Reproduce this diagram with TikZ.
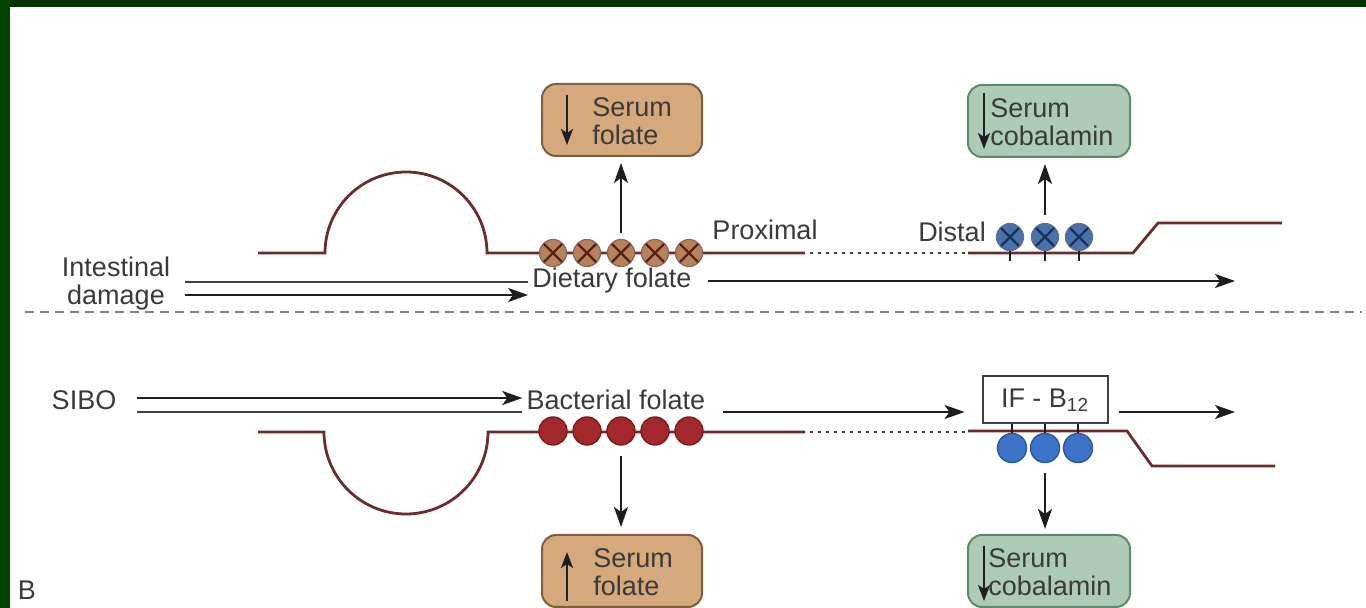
\documentclass[tikz,border=0pt]{standalone}
\usepackage{fontspec}
\setmainfont{Liberation Sans}
\usepackage{xcolor}
\usetikzlibrary{arrows.meta}
\definecolor{frametop}{HTML}{003300}
\definecolor{frameside}{HTML}{004400}
\definecolor{gutwall}{HTML}{6A2C2C}
\definecolor{labelink}{HTML}{3A3A3A}
\definecolor{arrowink}{HTML}{1E1E1E}
\definecolor{folatefill}{HTML}{D6A97C}
\definecolor{folateedge}{HTML}{7E5E3E}
\definecolor{cobalfill}{HTML}{AECBB8}
\definecolor{cobaledge}{HTML}{5B8A6C}
\definecolor{recbrown}{HTML}{B5825A}
\definecolor{recbrownx}{HTML}{5C1F14}
\definecolor{bacred}{HTML}{A3282B}
\definecolor{bacredge}{HTML}{7A1B1E}
\definecolor{ileumblue}{HTML}{4A72AA}
\definecolor{ileumbluex}{HTML}{18305E}
\definecolor{ifblue}{HTML}{3C73C6}
\definecolor{ifbluedge}{HTML}{2B56A0}

\begin{document}
\begin{tikzpicture}[
  x=0.5pt,
  y=-0.5pt,
  every node/.style={font=\fontsize{13.5}{14}\selectfont, labelink},
  flow/.style={arrowink, line width=1.2pt,
               -{Stealth[length=10pt,width=7pt,inset=2.5pt]}},
  pipe/.style={arrowink!85, line width=1.2pt},
  gut/.style={gutwall, line width=1.4pt},
  gap/.style={labelink, line width=1pt, dash pattern=on 1.5pt off 2.5pt},
  divider/.style={gray, line width=0.9pt, dash pattern=on 4.5pt off 3pt},
  stem/.style={arrowink, line width=0.9pt},
  serumbox/.style={rounded corners=7pt, line width=1pt, minimum height=36pt,
                   inner sep=0pt},
  folbox/.style={serumbox, fill=folatefill, draw=folateedge, minimum width=80pt},
  cobbox/.style={serumbox, fill=cobalfill, draw=cobaledge, minimum width=81pt},
  boxtext/.style={anchor=west, align=left, inner sep=0pt},
  inarrow/.style={arrowink, line width=1pt,
                  -{Stealth[length=8pt,width=6pt,inset=2pt]}},
  ifbox/.style={draw=arrowink!85, line width=1pt, fill=white, minimum width=62.5pt,
                minimum height=23.5pt, inner sep=0pt},
  folrec/.style={circle, fill=recbrown, draw=recbrownx!70, line width=0.6pt,
                 inner sep=0pt, minimum size=13.5pt,
                 path picture={\draw[recbrownx, line width=1.1pt]
                   (path picture bounding box.north west) -- (path picture bounding box.south east)
                   (path picture bounding box.north east) -- (path picture bounding box.south west);}},
  cobrec/.style={circle, fill=ileumblue, draw=ileumbluex!70, line width=0.6pt,
                 inner sep=0pt, minimum size=13.5pt,
                 path picture={\draw[ileumbluex, line width=1.1pt]
                   (path picture bounding box.north west) -- (path picture bounding box.south east)
                   (path picture bounding box.north east) -- (path picture bounding box.south west);}},
  bacrec/.style={circle, fill=bacred, draw=bacredge, line width=0.7pt,
                 inner sep=0pt, minimum size=14pt},
  ifrec/.style={circle, fill=ifblue, draw=ifbluedge, line width=0.7pt,
                inner sep=0pt, minimum size=14.5pt}
]
  \useasboundingbox (0,0) rectangle (1366,608);

  % ---- frame ----
  \fill[frametop] (0,0) rectangle (1366,7);
  \fill[frameside] (0,0) rectangle (10,608);

  % ---- bowel wall, upper panel ----
  \draw[gut] (258,253) -- (325,253) arc[start angle=180, end angle=360, radius=81]
    -- (805,253);
  \draw[gap] (810,253) -- (965,253);
  \draw[gut] (968,253) -- (1133,253) -- (1158,223) -- (1282,223);

  % ---- bowel wall, lower panel ----
  \draw[gut] (258,432) -- (324,432) arc[start angle=180, end angle=0, radius=82]
    -- (805,432);
  \draw[gap] (810,432) -- (965,432);
  \draw[gut] (968,431) -- (1127,431) -- (1152,466) -- (1275,466);

  % ---- separator ----
  \draw[divider] (25,312) -- (1362,312);

  % ---- receptors, upper panel ----
  \foreach \i/\px in {1/553, 2/587, 3/621, 4/655, 5/689}
    \node (f\i) [folrec] at (\px,253) {};
  \foreach \i/\px in {1/1010, 2/1045, 3/1079}
    \node (d\i) [cobrec] at (\px,237) {};
  \foreach \i in {1,2,3}
    \draw[stem] (d\i.south) -- ++(0,10);

  % ---- receptors, lower panel ----
  \foreach \i/\px in {1/553, 2/587, 3/621, 4/655, 5/689}
    \node (r\i) [bacrec] at (\px,431) {};
  \node (ifb) [ifbox] at (1045,400) {IF - B\textsubscript{12}};
  \foreach \i/\px in {1/1012, 2/1045, 3/1078}
    \node (b\i) [ifrec] at (\px,448) {};
  \foreach \i in {1,2,3}
    \draw[stem] (b\i.north) -- (b\i.north |- ifb.south);

  % ---- serum boxes ----
  \node (topfol) [folbox] at (622,120) {};
  \node (topfoltxt) [boxtext] at (592,121) {Serum\\folate};
  \draw[inarrow] ([xshift=13pt,yshift=-6pt]topfol.north west)
    -- ([xshift=13pt,yshift=6pt]topfol.south west);

  \node (topcob) [cobbox] at (1049,121) {};
  \node (topcobtxt) [boxtext] at (990,122) {Serum\\cobalamin};
  \draw[inarrow] ([xshift=8.5pt,yshift=-4.5pt]topcob.north west)
    -- ([xshift=8.5pt,yshift=4.5pt]topcob.south west);

  \node (botfol) [folbox] at (622,571) {};
  \node (botfoltxt) [boxtext] at (593,572) {Serum\\folate};
  \draw[inarrow] ([xshift=13pt,yshift=3.5pt]botfol.south west)
    -- ([xshift=13pt,yshift=-9pt]botfol.north west);

  \node (botcob) [cobbox] at (1049,571) {};
  \node (botcobtxt) [boxtext] at (988,572) {Serum\\cobalamin};
  \draw[inarrow] ([xshift=8.5pt,yshift=-6pt]botcob.north west)
    -- ([xshift=8.5pt,yshift=3.5pt]botcob.south west);

  % ---- labels ----
  \node (idmg) [align=center] at (116,284) {Intestinal\\damage};
  \node (diet) [inner sep=2pt] at (612,281) {Dietary folate};
  \node (prox) at (765,230) {Proximal};
  \node (dist) at (952,232) {Distal};
  \node (sibo) at (84,400) {SIBO};
  \node (bact) [inner sep=2pt] at (616,400) {Bacterial folate};
  \node (panel) at (27,590) {B};

  % ---- free ends ----
  \coordinate (dmgA) at (185,282);
  \coordinate (dmgB) at (185,295);
  \coordinate (dietend) at (1235,281);
  \coordinate (siboA) at (137,398);
  \coordinate (siboB) at (137,412);
  \coordinate (ifend) at (1235,412);

  % ---- upper panel flows ----
  \draw[pipe] (dmgA) -- (dmgA -| diet.west);
  \draw[flow] (dmgB) -- (dmgB -| diet.west);
  \draw[flow, shorten <=6pt] (diet.east) -- (dietend);
  \draw[flow, shorten <=3pt, shorten >=3pt] (f3.north) -- (f3.north |- topfol.south);
  \draw[flow, shorten <=4pt, shorten >=3pt] (d2.north) -- (d2.north |- topcob.south);

  % ---- lower panel flows ----
  \draw[flow] (siboA) -- (siboA -| bact.west);
  \draw[pipe] (siboB) -- (siboB -| bact.west);
  \draw[flow, shorten <=6.5pt, shorten >=8.5pt] ([yshift=-6pt]bact.east)
    -- ([yshift=-6pt]ifb.west);
  \draw[flow, shorten <=5pt] ([yshift=-6pt]ifb.east) -- (ifend);
  \draw[flow, shorten <=5pt, shorten >=3.5pt] (r3.south) -- (r3.south |- botfol.north);
  \draw[flow, shorten <=5pt, shorten >=2.5pt] (b2.south) -- (b2.south |- botcob.north);
\end{tikzpicture}
\end{document}
